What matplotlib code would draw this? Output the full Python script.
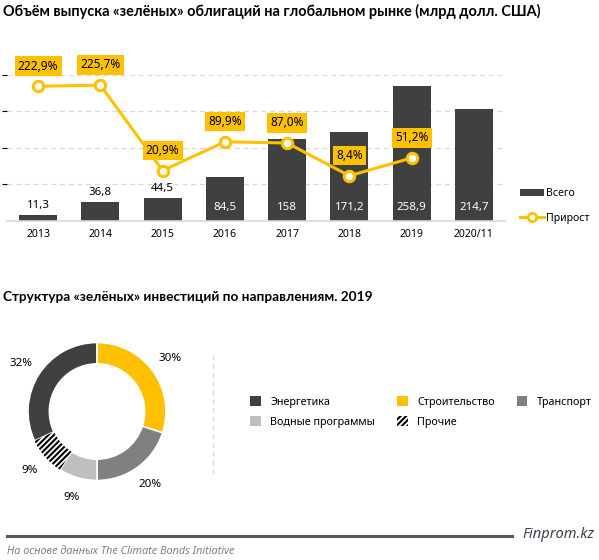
import matplotlib
matplotlib.use("Agg")
import matplotlib.pyplot as plt
from matplotlib.patches import Patch
from matplotlib.lines import Line2D
import numpy as np

plt.rcParams['font.family'] = ['Noto Sans', 'DejaVu Sans']
plt.rcParams['hatch.linewidth'] = 1.5

# ---- data ----
years = ["2013", "2014", "2015", "2016", "2017", "2018", "2019", "2020/11"]
volume = [11.3, 36.8, 44.5, 84.5, 158, 171.2, 258.9, 214.7]
growth = [222.9, 225.7, 20.9, 89.9, 87.0, 8.4, 51.2]
vol_labels = ["11,3", "36,8", "44,5", "84,5", "158", "171,2", "258,9", "214,7"]
growth_labels = ["222,9%", "225,7%", "20,9%", "89,9%", "87,0%", "8,4%", "51,2%"]

sectors = ["Энергетика", "Строительство", "Транспорт", "Водные программы", "Прочие"]
shares = [32, 30, 20, 9, 9]
share_labels = ["32%", "30%", "20%", "9%", "9%"]

DARK = "#404040"
YEL = "#FFC000"
sector_colors = [DARK, YEL, "#808080", "#BFBFBF", "white"]
sector_hatch = [None, None, None, None, "//////"]

W, H = 599, 560
fig = plt.figure(figsize=(W / 100, H / 100), dpi=100)

def fx(px):
    return px / W

def fy(py):
    return 1 - py / H

title_font = ['Lato', 'DejaVu Sans']
fig.text(fx(3), fy(11), "Объём выпуска «зелёных» облигаций на глобальном рынке (млрд долл. США)",
         fontsize=10.45, fontweight='bold', family=title_font, va='center', ha='left')

# ---- bar + line chart ----
ax = fig.add_axes([fx(7), fy(221), fx(505 - 7), (221 - 75) / H])
x = np.arange(len(years))
ax.bar(x, volume, width=0.61, color=DARK, zorder=2)
ax.set_xlim(-0.5, len(years) - 0.5)
ax.set_ylim(0, 280)
ax.set_yticks([70, 140, 210, 280])
ax.yaxis.grid(True, color="#D9D9D9", linestyle=(0, (4, 3)), linewidth=0.9, zorder=0)
ax.tick_params(axis='y', left=False, labelleft=False)
ax.tick_params(axis='x', length=0, pad=6, labelsize=7.5)
ax.set_xticks(x)
ax.set_xticklabels(years)
for s in ['top', 'right', 'left']:
    ax.spines[s].set_visible(False)
ax.spines['bottom'].set_color("#D9D9D9")
ax.spines['bottom'].set_linewidth(1.2)

for xi, v, lab in zip(x, volume, vol_labels):
    if v < 50:
        ax.annotate(lab, (xi, v), xytext=(0, 3), textcoords='offset points',
                    ha='center', va='bottom', fontsize=8.3, color='black', zorder=5)
    else:
        ax.text(xi, 25, lab, ha='center', va='center', fontsize=8.3, color='white', zorder=5)

ax2 = ax.twinx()
ax2.set_ylim(-100, 250)
ax2.axis('off')
xl = x[:len(growth)]
ax2.plot(xl, growth, color=YEL, linewidth=2.2, marker='o', markersize=7.5,
         markerfacecolor='white', markeredgecolor=YEL, markeredgewidth=2.2, zorder=4)
for xi, g, lab in zip(xl, growth, growth_labels):
    ax2.annotate(lab, (xi, g), xytext=(0, 14.5), textcoords='offset points',
                 ha='center', va='center', fontsize=8.5, color='black',
                 bbox=dict(boxstyle='square,pad=0.28', fc=YEL, ec='none'), zorder=6)

leg1_handles = [Patch(facecolor=DARK, edgecolor='none'),
                Line2D([], [], color=YEL, linewidth=2.2, marker='o', markersize=6,
                       markerfacecolor='white', markeredgecolor=YEL, markeredgewidth=2)]
fig.legend(leg1_handles, ["Всего", "Прирост"], loc='center left',
           bbox_to_anchor=(fx(520), fy(206)), frameon=False, fontsize=7.6,
           borderpad=0, borderaxespad=0,
           handlelength=2.3, handleheight=0.55, handletextpad=0.2, labelspacing=1.25)

# ---- donut chart ----
fig.text(fx(3), fy(297), "Структура «зелёных» инвестиций по направлениям. 2019",
         fontsize=9.8, fontweight='bold', family=title_font, va='center', ha='left')

cx, cy, r = 97, 411.5, 69
pax = fig.add_axes([fx(cx - r), fy(cy + r), 2 * r / W, 2 * r / H])
total = sum(shares)
start = 90 + shares[0] / total * 360
wedges, _ = pax.pie(shares, colors=sector_colors, startangle=start, counterclock=False,
                    radius=1,
                    wedgeprops=dict(width=0.31, edgecolor='white', linewidth=1.2))
for w, h in zip(wedges, sector_hatch):
    if h:
        w.set_hatch(h)
        w.set_edgecolor('black')
        w.set_linewidth(0)
for w, lab in zip(wedges, share_labels):
    mid = np.deg2rad((w.theta1 + w.theta2) / 2)
    pax.text(1.3 * np.cos(mid), 1.3 * np.sin(mid), lab, ha='center', va='center',
             fontsize=8.3, color='black')
pax.set_xlim(-1, 1)
pax.set_ylim(-1, 1)
pax.set_aspect('equal')
pax.axis('off')

# dashed separator
fig.add_artist(Line2D([fx(213), fx(213)], [fy(355), fy(477)], color="#D9D9D9",
                      linestyle=(0, (4, 3)), linewidth=0.9))

leg_handles = []
for c, h in zip(sector_colors, sector_hatch):
    if h:
        leg_handles.append(Patch(facecolor='white', edgecolor='black', hatch='//////', linewidth=0))
    else:
        leg_handles.append(Patch(facecolor=c, edgecolor='none'))
order = [0, 3, 1, 4, 2]
fig.legend([leg_handles[i] for i in order], [sectors[i] for i in order],
           ncol=3, loc='center left', bbox_to_anchor=(fx(240), fy(412)), frameon=False,
           fontsize=7.8, handlelength=1.0, handleheight=1.0, handletextpad=0.9,
           columnspacing=2.0, labelspacing=0.8)

# ---- footer ----
fig.add_artist(Line2D([fx(7), fx(512)], [fy(536), fy(536)], color="#595959", linewidth=2.2))
fig.text(fx(594), fy(535), "Finprom.kz", fontsize=10.5, fontweight='bold', style='italic',
         color="#3F3F4F", ha='right', va='center')
fig.text(fx(7), fy(552), "На основе данных The Climate Bonds Initiative", fontsize=7.8,
         style='italic', color="#7F7F7F", ha='left', va='center')

fig.savefig("out.png", dpi=100)
